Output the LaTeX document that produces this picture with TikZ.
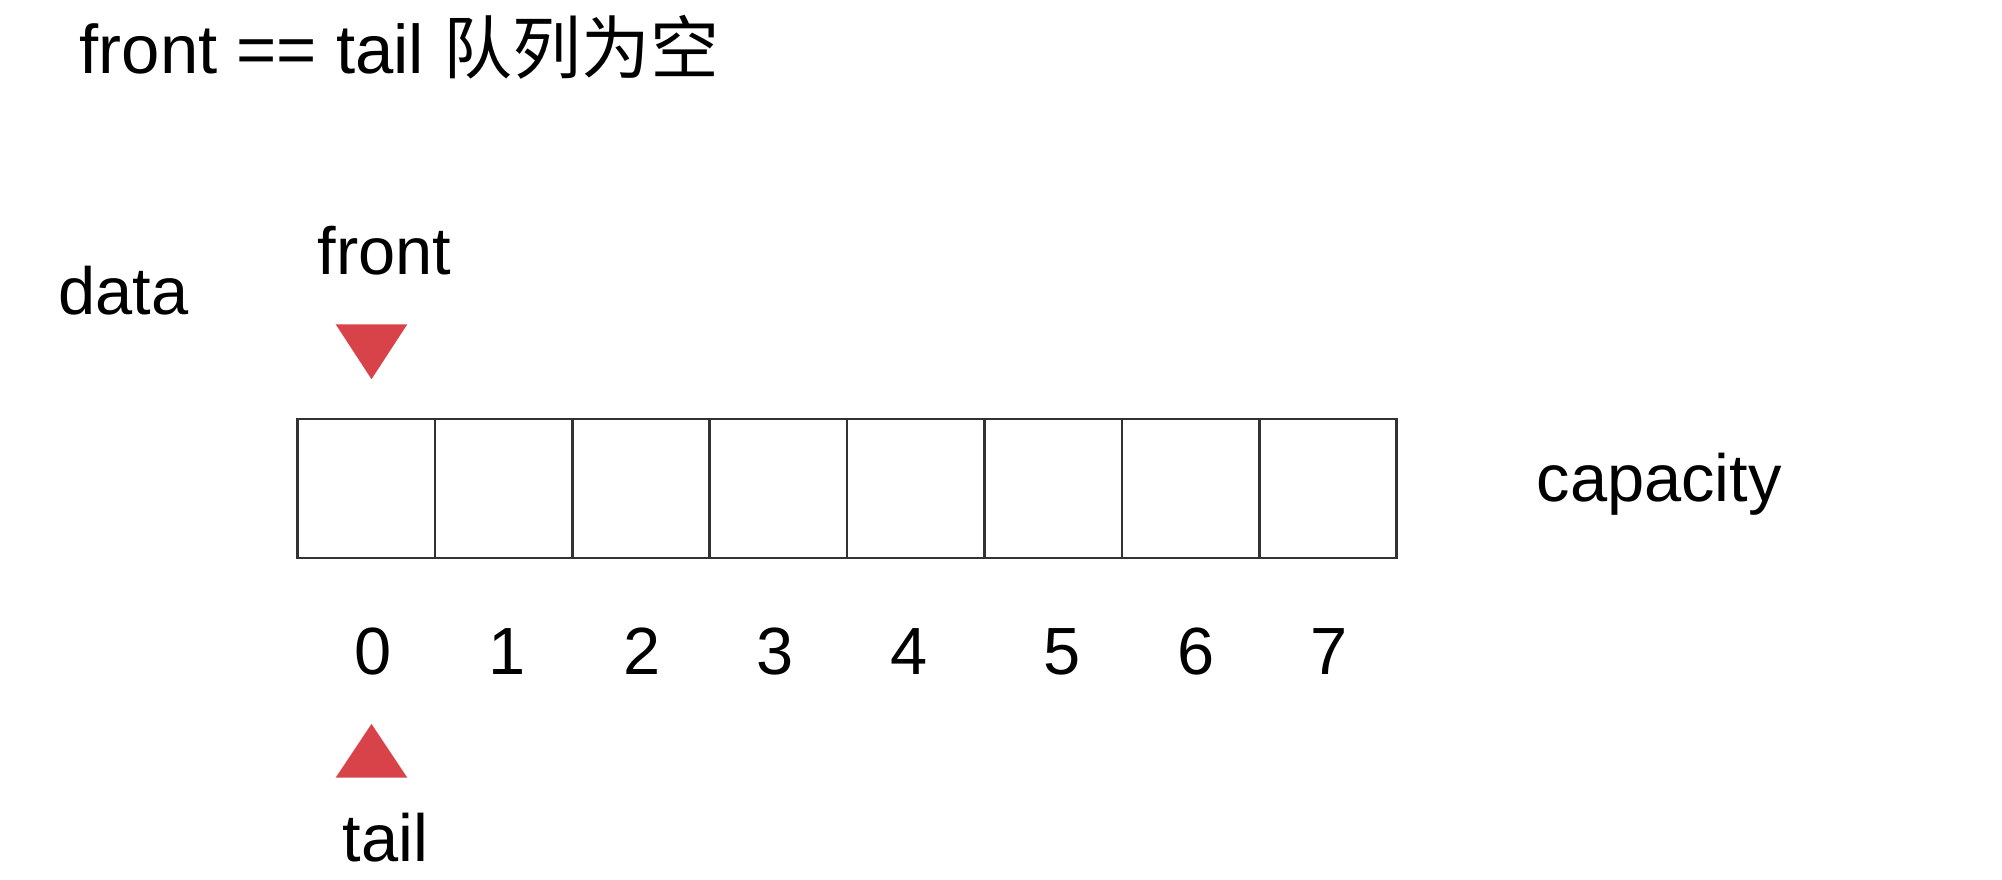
\documentclass[tikz,border=0pt]{standalone}
\usepackage{tikz}
\usepackage{xcolor}
\usepackage{fontspec}
\setmainfont{Liberation Sans}
\newfontfamily\cjkfont{Noto Sans CJK SC}
\usetikzlibrary{positioning}

\definecolor{ptrred}{RGB}{216,67,74}
\definecolor{cellgray}{RGB}{50,50,50}

\tikzset{
    cell/.style={draw=cellgray, line width=0.7pt, minimum width=1.374cm, minimum height=1.392cm, inner sep=0pt},
    lbl/.style={inner sep=0pt, anchor=base west},
    idx/.style={inner sep=0pt, anchor=base}
}

\begin{document}
\begin{tikzpicture}[font=\fontsize{19}{23}\selectfont]
    \useasboundingbox (0,0) rectangle (20.02,8.80);

    % Title
    \node[lbl, font=\fontsize{19.6}{23}\selectfont] (title) at (0.79,8.06) {front == tail {\cjkfont 队列为空}};

    % Labels
    \node[lbl] (data) at (0.575,5.65) {data};
    \node[lbl] (front) at (3.17,6.055) {front};
    \node[lbl] (capacity) at (15.36,3.78) {capacity};
    \node[lbl] (tail) at (3.42,0.18) {tail};

    % Array cells
    \foreach \i in {0,...,7}
        \node[cell] (c\i) at ({2.975+0.687+1.374*\i},3.916) {};

    % Indices
    \foreach \i/\x in {0/3.728, 1/5.069, 2/6.422, 3/7.750, 4/9.091, 5/10.623, 6/11.964, 7/13.291}
        \node[idx] (n\i) at (\x,2.05) {\i};

    % front pointer
    \fill[ptrred] (3.357,5.557) -- (4.073,5.557) -- (3.715,5.008) -- cycle;

    % tail pointer
    \fill[ptrred] (3.357,1.024) -- (4.073,1.024) -- (3.715,1.56) -- cycle;
\end{tikzpicture}
\end{document}
